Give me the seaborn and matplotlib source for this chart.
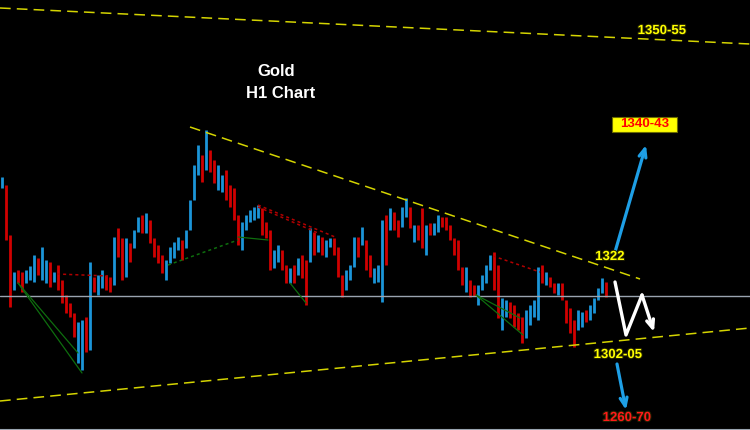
import matplotlib
matplotlib.use("Agg")
import numpy as np
import pandas as pd
import matplotlib.pyplot as plt
import matplotlib.patheffects as pe
from matplotlib.patches import Rectangle
import seaborn as sns

# ── Data: H1 gold bars (open / close) ─────────────────────────────────────────

opens = [
    1322.4, 1323.0, 1313.0, 1302.0, 1306.0, 1305.6, 1303.4, 1304.0, 1303.6, 1308.4,
    1304.0, 1303.4, 1307.6, 1303.6, 1307.0, 1304.0, 1301.0, 1299.4, 1297.4, 1287.4,
    1286.0, 1296.6, 1290.0, 1304.6, 1301.0, 1302.4, 1305.0, 1304.6, 1303.0, 1314.4,
    1312.4, 1304.6, 1311.4, 1310.4, 1313.6, 1317.0, 1313.4, 1316.0, 1312.4, 1311.0,
    1309.0, 1304.0, 1307.4, 1308.4, 1310.0, 1312.0, 1310.4, 1314.0, 1320.0, 1325.0,
    1329.0, 1326.0, 1330.0, 1328.0, 1322.0, 1321.6, 1326.0, 1323.0, 1322.4, 1317.0,
    1310.0, 1314.0, 1315.6, 1316.0, 1316.4, 1318.4, 1315.6, 1314.0, 1306.4, 1307.6,
    1310.0, 1307.0, 1303.4, 1307.0, 1305.0, 1309.0, 1308.0, 1307.6, 1313.6, 1309.6,
    1312.6, 1308.6, 1310.6, 1312.4, 1310.6, 1305.0, 1302.0, 1304.0, 1306.6, 1312.6,
    1311.0, 1312.0, 1309.0, 1303.4, 1303.6, 1299.6, 1317.0, 1314.0, 1317.6, 1316.0,
    1314.6, 1316.6, 1318.6, 1311.6, 1315.0, 1318.4, 1309.0, 1315.4, 1313.0, 1313.6,
    1316.6, 1316.6, 1315.0, 1312.4, 1312.0, 1306.6, 1301.6, 1304.0, 1303.0, 1299.0,
    1302.0, 1303.4, 1306.0, 1309.6, 1307.0, 1294.0, 1296.6, 1299.6, 1299.0, 1297.4,
    1296.6, 1292.4, 1295.0, 1296.6, 1296.0, 1307.0, 1303.0, 1304.6, 1303.4, 1301.0,
    1303.4, 1300.0, 1298.4, 1296.0, 1294.0, 1294.6, 1298.0, 1296.0, 1297.4, 1300.0,
    1301.4, 1303.6,
]
closes = [
    1324.6, 1312.0, 1298.6, 1305.6, 1303.4, 1301.6, 1306.0, 1306.8, 1309.0, 1305.0,
    1310.6, 1308.0, 1302.6, 1305.6, 1302.0, 1299.4, 1297.4, 1296.6, 1292.6, 1295.6,
    1296.0, 1289.6, 1307.6, 1301.6, 1305.0, 1306.0, 1302.0, 1301.6, 1312.6, 1308.6,
    1304.0, 1312.4, 1307.6, 1314.0, 1316.6, 1313.4, 1317.4, 1311.4, 1308.6, 1307.4,
    1305.4, 1308.0, 1310.6, 1311.6, 1312.6, 1308.0, 1314.0, 1320.0, 1327.0, 1331.0,
    1323.6, 1334.0, 1325.6, 1323.4, 1327.0, 1325.0, 1320.0, 1318.6, 1316.0, 1311.0,
    1315.6, 1317.0, 1318.0, 1318.6, 1319.0, 1313.0, 1312.4, 1306.0, 1310.0, 1311.0,
    1306.0, 1303.4, 1306.4, 1303.4, 1308.4, 1304.4, 1299.0, 1314.4, 1309.0, 1313.0,
    1309.0, 1312.0, 1312.4, 1309.0, 1304.6, 1300.6, 1306.0, 1307.0, 1312.6, 1308.6,
    1314.6, 1306.0, 1304.6, 1306.4, 1307.0, 1316.0, 1307.0, 1318.4, 1314.0, 1312.6,
    1318.6, 1320.4, 1314.4, 1315.0, 1312.0, 1310.4, 1315.0, 1313.0, 1315.4, 1317.0,
    1314.6, 1314.0, 1312.0, 1309.0, 1306.0, 1303.0, 1306.6, 1300.6, 1300.8, 1303.0,
    1305.0, 1307.0, 1309.0, 1302.0, 1296.4, 1300.4, 1300.0, 1296.4, 1294.6, 1294.0,
    1291.4, 1298.0, 1299.0, 1300.0, 1306.6, 1303.4, 1305.6, 1302.6, 1301.4, 1303.4,
    1300.0, 1295.4, 1293.4, 1290.6, 1298.0, 1297.6, 1295.6, 1299.0, 1300.4, 1302.4,
    1304.4, 1300.6,
]

# ── Levels / drawings (bar index, price) ─────────────────────────────────────

H_LEVEL = 1300.8

top_bars,   top_prices   = [-0.5, 187.0], [1358.4, 1351.2]
upper_bars, upper_prices = [47.0, 159.5], [1334.6, 1304.2]
lower_bars, lower_prices = [-0.5, 187.0], [1279.8, 1294.4]

red_dotted = [
    ([13.75, 26.5],  [1305.2, 1304.8]),
    ([64.0, 83.25],  [1319.0, 1312.6]),
    ([64.0, 79.0],   [1318.6, 1313.4]),
    ([122.75, 134.5], [1308.8, 1305.6]),
]
green_solid = [
    ([4.0, 20.0],    [1303.4, 1285.4]),
    ([4.0, 19.0],    [1303.4, 1289.4]),
    ([59.0, 66.5],   [1312.6, 1312.0]),
    ([72.0, 76.0],   [1303.4, 1299.4]),
    ([118.5, 130.25], [1301.0, 1293.0]),
    ([118.5, 129.5], [1301.0, 1296.4]),
]
green_dashed = [
    ([41.5, 59.0], [1307.0, 1312.0]),
]

zigzag_bars   = [153.25, 156.0, 160.0, 163.0]
zigzag_prices = [1303.6, 1293.0, 1301.0, 1293.6]

arrow_up   = ((153.25, 1309.6), (161.0, 1331.0))
arrow_down = ((153.75, 1287.2), (156.0, 1278.0))

labels = [
    # text, bar, price, colour
    ("1350-55", 165.0, 1353.8, "#ffff00"),
    ("1322",    152.0, 1308.6, "#ffff00"),
    ("1302-05", 154.0, 1289.0, "#ffff00"),
    ("1260-70", 156.25, 1276.4, "#ff1a1a"),
]
target_box = ("1340-43", 160.75, 1335.2)

# ── Style ─────────────────────────────────────────────────────────────────────

BULL   = "#1b95d8"
BEAR   = "#d00000"
YELLOW = "#d4d400"
ARROW  = "#1e9fe6"

sns.set_style("dark", {"axes.facecolor": "black", "figure.facecolor": "black"})
plt.rcParams["font.family"] = ["Liberation Sans", "DejaVu Sans"]

fig = plt.figure(figsize=(7.5, 4.3), dpi=100)
ax = fig.add_axes([0, 0, 1, 1])
ax.set_facecolor("black")

# ── Candles ───────────────────────────────────────────────────────────────────

df = pd.DataFrame({"open": opens, "close": closes})
df["bar"] = np.arange(len(df))
colors = np.where(df["close"] >= df["open"], BULL, BEAR)
ax.vlines(df["bar"], df["open"], df["close"], colors=colors, linewidth=2.0)

# ── Lines ─────────────────────────────────────────────────────────────────────

def line(bars, prices, color, lw, dashes=None):
    sns.lineplot(x=bars, y=prices, ax=ax, color=color, linewidth=lw,
                 sort=False, legend=False, estimator=None)
    if dashes:
        ax.lines[-1].set_dashes(dashes)

ax.axhline(H_LEVEL, color="#9aa4b0", linewidth=1.0)

line(top_bars, top_prices, YELLOW, 1.1, (7, 4))
line(upper_bars, upper_prices, YELLOW, 1.1, (7, 4))
line(lower_bars, lower_prices, YELLOW, 1.1, (7, 4))

for b, p in red_dotted:
    line(b, p, "#b00000", 1.1, (2, 2))
for b, p in green_solid:
    line(b, p, "#0e6e0e", 0.9)
for b, p in green_dashed:
    line(b, p, "#0e6e0e", 1.1, (2, 2))

# ── Arrows ────────────────────────────────────────────────────────────────────

line(zigzag_bars[:-1], zigzag_prices[:-1], "white", 2.4)
ax.annotate("", xy=(zigzag_bars[-1], zigzag_prices[-1]),
            xytext=(zigzag_bars[-2], zigzag_prices[-2]),
            arrowprops=dict(arrowstyle="->,head_length=0.6,head_width=0.25",
                            color="white", lw=2.4, shrinkA=0, shrinkB=0))
for start, end in (arrow_up, arrow_down):
    ax.annotate("", xy=end, xytext=start,
                arrowprops=dict(arrowstyle="->,head_length=0.6,head_width=0.25",
                                color=ARROW, lw=2.3, shrinkA=0, shrinkB=0))

# ── Text ──────────────────────────────────────────────────────────────────────

ax.text(68.5, 1345.8, "Gold", color="white", fontsize=12, fontweight="bold",
        ha="center", va="center")
ax.text(69.75, 1341.2, "H1 Chart", color="white", fontsize=12, fontweight="bold",
        ha="center", va="center")

outline = [pe.withStroke(linewidth=1.5, foreground="#202000")]
for txt, b, p, col in labels:
    ax.text(b, p, txt, color=col, fontsize=9.5, fontweight="bold",
            ha="center", va="center", path_effects=outline)

txt, b, p = target_box
ax.add_patch(Rectangle((152.5, 1333.7), 16.25, 3.0, facecolor="#ffff00",
                       edgecolor="#6a6a00", linewidth=0.8, zorder=3))
ax.text(b, p, txt, color="#ff0000", fontsize=9.5, fontweight="bold",
        ha="center", va="center", zorder=4)

# ── Frame ─────────────────────────────────────────────────────────────────────

ax.set_xlim(-0.5, 187.0)
ax.set_ylim(1274.0, 1360.0)
ax.set_xticks([]); ax.set_yticks([])
ax.set_xlabel(""); ax.set_ylabel("")
for side in ("top", "left", "right"):
    ax.spines[side].set_visible(False)
ax.spines["bottom"].set_visible(True)
ax.spines["bottom"].set_color("#9aa4b0")
ax.spines["bottom"].set_linewidth(1.5)

fig.savefig("out.png", dpi=100, facecolor="black")
